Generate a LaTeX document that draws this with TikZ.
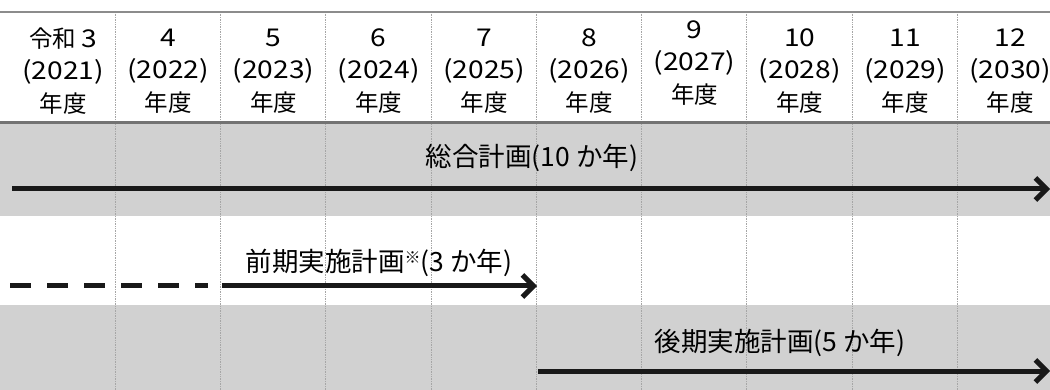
\documentclass[tikz,border=0pt]{standalone}
\usepackage{fontspec}
\usepackage{graphicx}
\setmainfont{Noto Sans CJK JP}
\usetikzlibrary{arrows.meta}
\newcommand{\wnum}[1]{\scalebox{1.15}[1]{\fontsize{24.5}{24.5}\selectfont #1}}
\begin{document}
\begin{tikzpicture}[x=1pt,y=-1pt,
    yearcol/.style={align=center,inner sep=0pt,font=\fontsize{23.5}{32.5}\selectfont},
    planlabel/.style={inner sep=0pt,font=\fontsize{26.5}{26.5}\selectfont},
    planarrow/.style={black!90,line width=5pt,-{Straight Barb[length=11pt,width=22pt]}},
    band/.style={fill=black!18},
    colline/.style={black!35,densely dotted,line width=0.7pt}]
    \useasboundingbox (0,0) rectangle (1050,390);
    \fill[band] (0,123) rectangle (1050,216);
    \fill[band] (0,305) rectangle (1050,390);
    \foreach \i in {1,...,9}
        \draw[colline] ({10+105.25*\i},12) -- ({10+105.25*\i},390);
    \draw[black!45,line width=2pt] (0,12) -- (1050,12);
    \draw[black!55,line width=3pt] (0,123) -- (1050,123);
    \foreach \i/\nen/\yr/\dy in {1/令和 \wnum{3}/2021/0, 2/\wnum{4}/2022/0, 3/\wnum{5}/2023/0,
        4/\wnum{6}/2024/0, 5/\wnum{7}/2025/0, 6/\wnum{8}/2026/0, 7/\wnum{9}/2027/-8,
        8/\wnum{10}/2028/0, 9/\wnum{11}/2029/0, 10/\wnum{12}/2030/0}
    {
        \node[yearcol] (col\i) at ({63+105.25*(\i-1)},{71+\dy}) {\nen\\\wnum{(\yr)}\\年度};
    }
    \node[planlabel] (sogo) at (532,158) {総合計画(10 か年)};
    \node[planlabel] (zenki) at (379,263) {前期実施計画{\fontsize{16}{16}\selectfont\raisebox{8pt}{※}}(3 か年)};
    \node[planlabel] (koki) at (780,343) {後期実施計画(5 か年)};
    \coordinate (s1) at (12,189);
    \coordinate (e1) at (1050,189);
    \draw[planarrow] (s1) -- (e1);
    \coordinate (s2) at (10,286);
    \coordinate (m2) at (208,286);
    \coordinate (n2) at (222,286);
    \coordinate (e2) at (537,286);
    \draw[black!90,line width=5pt,dash pattern=on 21pt off 16pt] (s2) -- (m2);
    \draw[planarrow] (n2) -- (e2);
    \coordinate (s3) at (538,371);
    \coordinate (e3) at (1050,371);
    \draw[planarrow] (s3) -- (e3);
\end{tikzpicture}
\end{document}
